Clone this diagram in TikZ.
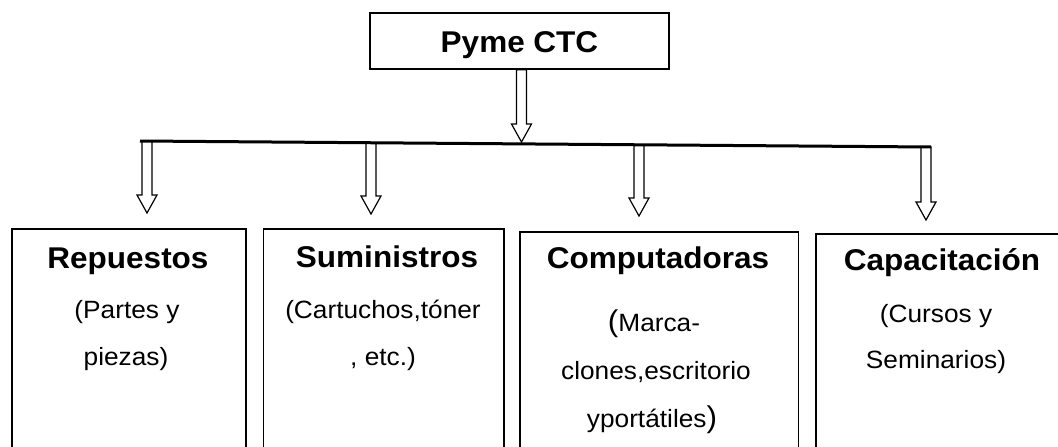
\documentclass[tikz,border=0pt]{standalone}
\usepackage{fontspec}
\setmainfont{Liberation Sans}[FakeStretch=1.05]
\usetikzlibrary{calc}

\tikzset{
  frame/.style={draw, line width=1.6pt, rectangle, inner sep=0pt},
  title/.style={font=\fontsize{30}{30}\selectfont\bfseries, inner sep=0pt, anchor=base},
  sub/.style={font=\fontsize{25}{25}\selectfont, inner sep=0pt, anchor=base},
  hollow/.style={draw, line width=1.2pt, fill=white, line join=miter},
  bar/.style={line width=3pt},
}
% hollow block arrow: shaft from #1 straight down to the tip at #2
\newcommand\hollowarrow[2]{%
  \path[hollow] let \p1=(#1), \p2=(#2) in
    (\x1-5pt,\y1) -- (\x1-5pt,\y2+18pt) -- (\x1-10pt,\y2+18pt) -- (\x1,\y2)
    -- (\x1+10pt,\y2+18pt) -- (\x1+5pt,\y2+18pt) -- (\x1+5pt,\y1) -- cycle;}
\newcommand\bigp[1]{{\fontsize{30}{30}\selectfont#1}}

\begin{document}
\begin{tikzpicture}[x=1pt,y=-1pt]
\clip (0,0) rectangle (1058,447);
\fill[white] (0,0) rectangle (1058,447);

% root
\node[frame, minimum width=299pt, minimum height=56pt, text height=22pt, text depth=0pt,
      font=\fontsize{30}{30}\selectfont\bfseries] (top) at (519.5,41) {Pyme CTC};

% branch boxes (open at the bottom of the page)
\node[frame, anchor=north west, minimum width=234pt, minimum height=260pt] (b1) at (11,228) {};
\node[frame, anchor=north west, minimum width=240.5pt, minimum height=260pt] (b2) at (262.5,228) {};
\node[frame, anchor=north west, minimum width=278.5pt, minimum height=260pt] (b3) at (519,231) {};
\node[frame, anchor=north west, minimum width=247pt, minimum height=260pt] (b4) at (815,233) {};

% texts
\node[title] (r0) at (128,268) {Repuestos};
\node[sub] (r1) at (127,318) {(Partes y};
\node[sub] (r2) at (126,365) {piezas)};

\node[title] (s0) at (387,267) {Suministros};
\node[sub] (s1) at (383,318) {(Cartuchos,tóner};
\node[sub] (s2) at (383,365) {, etc.)};

\node[title] (c0) at (658,268) {Computadoras};
\node[sub] (c1) at (654,331) {\bigp{(}Marca-};
\node[sub] (c2) at (656,379) {clones,escritorio};
\node[sub] (c3) at (652,427) {yportátiles\bigp{)}};

\node[title] (p0) at (942,270) {Capacitación};
\node[sub] (p1) at (936,322) {(Cursos y};
\node[sub] (p2) at (936,368) {Seminarios)};

% distribution bar and arrow anchors
\coordinate (L) at (140,141);
\coordinate (R) at (931,147);
\coordinate (t0) at ([xshift=2pt]top.south);
\coordinate (t1) at (521.5,142);
\coordinate (a1s) at (147,141);   \coordinate (a1t) at (147,213);
\coordinate (a2s) at (371,142.8); \coordinate (a2t) at (371,214);
\coordinate (a3s) at (639,144.8); \coordinate (a3t) at (639,216);
\coordinate (a4s) at (926,147);   \coordinate (a4t) at (926,220);

\hollowarrow{t0}{t1}
\hollowarrow{a1s}{a1t}
\hollowarrow{a2s}{a2t}
\hollowarrow{a3s}{a3t}
\hollowarrow{a4s}{a4t}

\draw[bar] (L) -- (R);
\end{tikzpicture}
\end{document}
